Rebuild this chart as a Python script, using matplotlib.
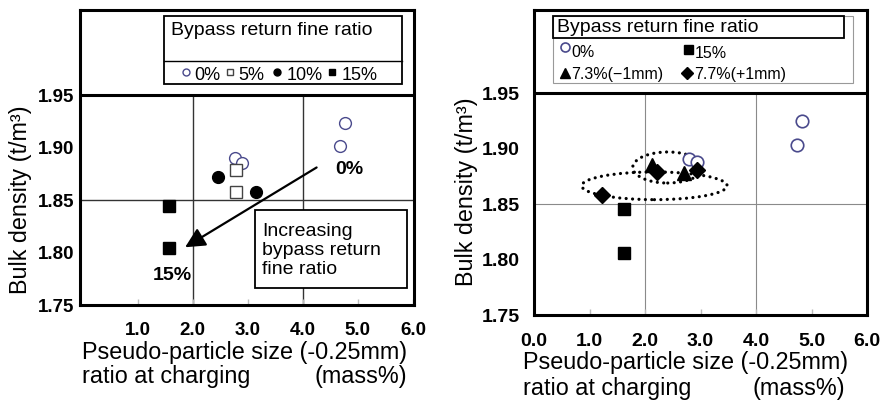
import matplotlib
matplotlib.use('Agg')
import matplotlib.pyplot as plt
from matplotlib.patches import Rectangle, Ellipse

# ── Du lieu doc tu hinh ──────────────────────────────
# Trai: ty le bot hoi luu (bypass return fine ratio)
left_labels = ['0%', '5%', '10%', '15%']
left_x = [[2.76, 2.89, 4.67, 4.76],
          [2.78, 2.78],
          [2.46, 3.15],
          [1.57, 1.57]]
left_y = [[1.890, 1.885, 1.901, 1.923],
          [1.879, 1.858],
          [1.872, 1.858],
          [1.844, 1.804]]
arrow_from = (4.25, 1.881)
arrow_to = (1.86, 1.805)

# Phai
right_labels = ['0%', '15%', '7.3%(\u22121mm)', '7.7%(+1mm)']
right_x = [[2.80, 2.93, 4.73, 4.83],
           [1.62, 1.62],
           [2.12, 2.71],
           [1.22, 2.21, 2.93]]
right_y = [[1.891, 1.888, 1.903, 1.925],
           [1.846, 1.806],
           [1.885, 1.878],
           [1.858, 1.879, 1.881]]
# ellipse cham cham: (x tam, y tam, rong, cao)
ellipses = [(2.17, 1.8665, 2.62, 0.025),
            (2.41, 1.883, 1.26, 0.028)]

y_ticks = [1.75, 1.80, 1.85, 1.90, 1.95]
x_ticks_left = [1.0, 2.0, 3.0, 4.0, 5.0, 6.0]
x_ticks_right = [0.0, 1.0, 2.0, 3.0, 4.0, 5.0, 6.0]

NAVY = '#4a4a8c'
SANS = ['Liberation Sans', 'DejaVu Sans']

plt.rcParams['font.family'] = SANS

left_styles = [dict(marker='o', mfc='white', mec=NAVY, ms=8.5, mew=1.0),
               dict(marker='s', mfc='white', mec='#444444', ms=8, mew=1.0),
               dict(marker='o', mfc='black', mec='black', ms=8.5),
               dict(marker='s', mfc='black', mec='black', ms=8.5)]
right_styles = [dict(marker='o', mfc='white', mec=NAVY, ms=9, mew=1.2),
                dict(marker='s', mfc='black', mec='black', ms=9),
                dict(marker='^', mfc='black', mec='black', ms=10),
                dict(marker='D', mfc='black', mec='black', ms=8)]

W, H = 880, 401
fig = plt.figure(figsize=(8.8, 4.01), dpi=100)


def px_axes(x0, y0, x1, y1):
    return fig.add_axes([x0 / W, 1 - y1 / H, (x1 - x0) / W, (y1 - y0) / H])


def common(ax, xt, ymax, grid_c, grid_lw):
    ax.set_ylim(1.75, ymax)
    ax.set_yticks(y_ticks)
    ax.set_yticklabels([f'{v:.2f}' for v in y_ticks])
    ax.set_xticks(xt)
    ax.set_xticklabels([f'{v:.1f}' for v in xt])
    for s in ax.spines.values():
        s.set_linewidth(2.2)
    ax.axhline(1.95, color='black', lw=2.2, zorder=4)
    ax.axhline(1.85, color=grid_c, lw=grid_lw, zorder=1)
    for gx in (2.0, 4.0):
        ax.plot([gx, gx], [1.75, 1.95], color=grid_c, lw=grid_lw, zorder=1)
    ax.tick_params(axis='x', direction='in', length=4, color='#bbbbbb', width=1)
    ax.tick_params(axis='y', length=0)
    for lab in ax.get_xticklabels() + ax.get_yticklabels():
        lab.set_fontweight('bold')


# ── Left panel ──
ax = px_axes(80, 10, 414, 305)
ax.set_xlim(-0.05, 6.02)
common(ax, x_ticks_left, 2.031, '#333333', 1.0)
ax.tick_params(axis='x', labelsize=13.5, pad=12)
ax.tick_params(axis='y', labelsize=13.5, pad=4)

for xs, ys, st in zip(left_x, left_y, left_styles):
    ax.plot(xs, ys, ls='none', zorder=5, **st)

ax.annotate('', xy=arrow_to, xytext=arrow_from,
            arrowprops=dict(arrowstyle='-|>', color='black', lw=1.6,
                            mutation_scale=30, shrinkA=0, shrinkB=0), zorder=6)
ax.text(4.85, 1.879, '0%', fontsize=14, fontweight='bold', ha='center', va='center')
ax.text(1.62, 1.778, '15%', fontsize=14, fontweight='bold', ha='center', va='center')

ax.add_patch(Rectangle((0.524, 0.058), 0.455, 0.264, transform=ax.transAxes,
                       fill=True, fc='white', ec='black', lw=1.3, zorder=6))
ax.text(0.545, 0.185, 'Increasing\nbypass return\nfine ratio', transform=ax.transAxes,
        fontsize=14, ha='left', va='center', linespacing=1.15, zorder=7)

# legend box (trai)
ax.add_patch(Rectangle((0.251, 0.749), 0.713, 0.231, transform=ax.transAxes,
                       fill=False, ec='black', lw=1.3, clip_on=False))
ax.plot([0.251, 0.964], [0.827, 0.827], transform=ax.transAxes, color='black', lw=1.0)
ax.text(0.272, 0.930, 'Bypass return fine ratio', transform=ax.transAxes,
        fontsize=14, ha='left', va='center')
leg_mx = [186, 230, 277, 332]
leg_tx = [194, 238, 287, 342]
for lab, st, mx, tx in zip(left_labels, left_styles, leg_mx, leg_tx):
    st2 = dict(st)
    st2['ms'] = 5
    ax.plot([(mx - 80) / 334], [(305 - 72) / 295], transform=ax.transAxes,
            ls='none', clip_on=False, **st2)
    ax.text((tx - 80) / 334, (305 - 76) / 295, lab, transform=ax.transAxes,
            fontsize=13, ha='left', va='center')

fig.text(21 / W, 1 - 200 / H, 'Bulk density (t/m\u00b3)', rotation=90,
         fontsize=16.8, ha='center', va='center')
fig.text(82 / W, 1 - 352 / H, 'Pseudo-particle size (-0.25mm)', fontsize=16.8,
         ha='left', va='center')
fig.text(82 / W, 1 - 377 / H, 'ratio at charging', fontsize=16.8, ha='left', va='center')
fig.text(407 / W, 1 - 377 / H, '(mass%)', fontsize=16.8, ha='right', va='center')

# ── Right panel ──
ax2 = px_axes(534, 10, 867, 315)
ax2.set_xlim(0, 6.0)
common(ax2, x_ticks_right, 2.025, '#8a8a8a', 0.8)
ax2.tick_params(axis='x', labelsize=14, pad=13)
ax2.tick_params(axis='y', labelsize=14, pad=10)

# vong cham cham: cham tron, cach deu
for (cx, cy, w, h) in ellipses:
    ax2.add_patch(Ellipse((cx, cy), w, h, fill=False, ec='black', lw=2.3,
                          ls=(0, (0.01, 2.0)), capstyle='round', zorder=3))
for xs, ys, st in zip(right_x, right_y, right_styles):
    ax2.plot(xs, ys, ls='none', zorder=5, **st)

# legend box (phai)
ax2.add_patch(Rectangle((0.057, 0.761), 0.901, 0.219, transform=ax2.transAxes,
                        fill=False, ec='#999999', lw=0.8))
ax2.add_patch(Rectangle((0.057, 0.908), 0.874, 0.072, transform=ax2.transAxes,
                        fill=False, ec='black', lw=1.3))
ax2.text(0.069, 0.944, 'Bypass return fine ratio', transform=ax2.transAxes,
         fontsize=14, ha='left', va='center')
leg2_m = [(0.093, 0.880), (0.462, 0.872), (0.093, 0.793), (0.459, 0.793)]
leg2_t = [(0.113, 0.862), (0.482, 0.859), (0.112, 0.787), (0.480, 0.787)]
for lab, st, (mx, my), (tx, ty) in zip(right_labels, right_styles, leg2_m, leg2_t):
    st2 = dict(st)
    st2['ms'] = st['ms'] * 0.72
    ax2.plot([mx], [my], transform=ax2.transAxes, ls='none', clip_on=False, **st2)
    ax2.text(tx, ty, lab, transform=ax2.transAxes, fontsize=11.5,
             ha='left', va='center')

fig.text(467 / W, 1 - 192 / H, 'Bulk density (t/m\u00b3)', rotation=90,
         fontsize=16.8, ha='center', va='center')
fig.text(523 / W, 1 - 363 / H, 'Pseudo-particle size (-0.25mm)', fontsize=16.8,
         ha='left', va='center')
fig.text(523 / W, 1 - 388 / H, 'ratio at charging', fontsize=16.8, ha='left', va='center')
fig.text(845 / W, 1 - 388 / H, '(mass%)', fontsize=16.8, ha='right', va='center')

fig.savefig('out.png', dpi=100)
